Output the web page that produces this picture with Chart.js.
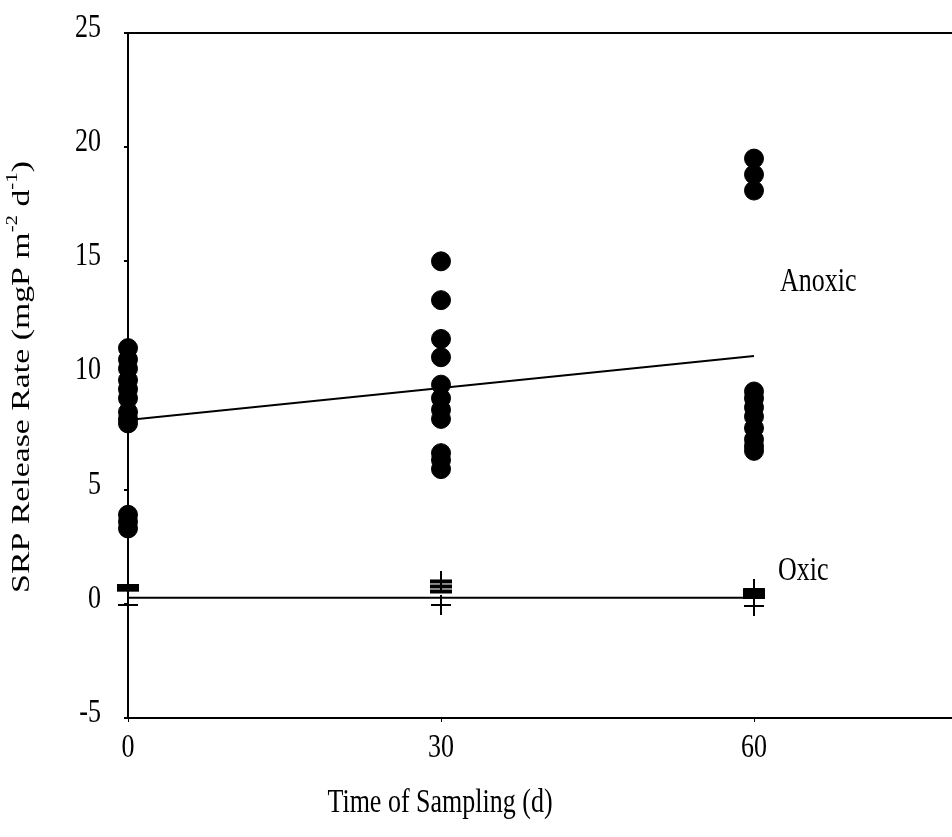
<!DOCTYPE html>
<html>
<head>
<meta charset="utf-8">
<script src="https://cdn.jsdelivr.net/npm/chart.js@4.4.1/dist/chart.umd.min.js"></script>
<style>
  html, body { margin: 0; padding: 0; background: #fff; overflow: hidden; }
  #wrap { width: 1100px; height: 837px; }
</style>
</head>
<body>
<div id="wrap"><canvas id="srpChart" width="1100" height="837"></canvas></div>
<script>
// sampling days and measured release rates (mgP m-2 d-1)
const days = [0, 30, 60];
const xTicks = [0, 30, 60];
const yTicks = [25, 20, 15, 10, 5, 0, -5];

const anoxicDay0 = [11.2, 10.7, 10.3, 9.8, 9.4, 9.0, 8.4, 8.1, 7.9, 3.9, 3.6, 3.3];
const anoxicDay30 = [15.0, 13.3, 11.6, 10.8, 9.6, 9.0, 8.5, 8.1, 6.6, 6.3, 5.9];
const anoxicDay60 = [19.5, 18.8, 18.1, 9.3, 9.0, 8.6, 8.2, 7.7, 7.2, 6.9, 6.7];

// oxic cores: dash markers and plus markers
const oxicDashDay0 = [0.78, 0.62];
const oxicDashDay30 = [0.98, 0.76, 0.54];
const oxicDashDay60 = [0.6, 0.45, 0.3];
const oxicPlusDay0 = [-0.05];
const oxicPlusDay30 = [1.0, -0.05];
const oxicPlusDay60 = [0.65, -0.1];

// linear trends at day 0 and day 60
const trendDays = [0, 60];
const anoxicTrend = [8.05, 10.85];
const oxicTrend = [0.27, 0.27];

const seriesLabels = [
  { text: 'Anoxic', x: 62.5, y: 14.1 },
  { text: 'Oxic', x: 62.3, y: 1.45 }
];

function toPoints(day, values) {
  return values.map(v => ({ x: day, y: v }));
}

let anoxicPts = [].concat(
  toPoints(days[0], anoxicDay0),
  toPoints(days[1], anoxicDay30),
  toPoints(days[2], anoxicDay60)
);
let dashPts = [].concat(
  toPoints(days[0], oxicDashDay0),
  toPoints(days[1], oxicDashDay30),
  toPoints(days[2], oxicDashDay60)
);
let plusPts = [].concat(
  toPoints(days[0], oxicPlusDay0),
  toPoints(days[1], oxicPlusDay30),
  toPoints(days[2], oxicPlusDay60)
);

const FONT = '"Liberation Serif", "Times New Roman", serif';
const FONT_SIZE = 26;
const STRETCH = 1.3;   // lettering is tall and narrow

function tallText(ctx, text, x, y, align) {
  ctx.save();
  ctx.translate(x, y);
  ctx.scale(1, STRETCH);
  ctx.textAlign = align;
  ctx.textBaseline = 'middle';
  ctx.fillText(text, 0, 0);
  ctx.restore();
}

// tick labels, axis titles and series names
const textPlugin = {
  id: 'textPlugin',
  afterDraw(chart) {
    let ctx = chart.ctx;
    let xs = chart.scales.x, ys = chart.scales.y;
    ctx.save();
    ctx.fillStyle = '#000';
    ctx.font = FONT_SIZE + 'px ' + FONT;

    yTicks.forEach(t => {
      let label = t < 0 ? '-' + Math.abs(t) : String(t);
      tallText(ctx, label, 101, ys.getPixelForValue(t) - 5, 'right');
    });
    xTicks.forEach(t => {
      tallText(ctx, String(t), xs.getPixelForValue(t), 748, 'center');
    });

    tallText(ctx, 'Time of Sampling (d)', 440, 803, 'center');

    seriesLabels.forEach(l => {
      tallText(ctx, l.text, xs.getPixelForValue(l.x), ys.getPixelForValue(l.y), 'left');
    });

    // y title with superscripts, rotated
    let parts = [
      { t: 'SRP Release Rate (mgP m', sup: false },
      { t: '-2', sup: true },
      { t: ' d', sup: false },
      { t: '-1', sup: true },
      { t: ')', sup: false }
    ];
    let supFont = '16px ' + FONT;
    let mainFont = FONT_SIZE + 'px ' + FONT;
    let total = 0;
    parts.forEach(p => {
      ctx.font = p.sup ? supFont : mainFont;
      p.w = ctx.measureText(p.t).width;
      total += p.w;
    });
    ctx.translate(22, 377);
    ctx.rotate(-Math.PI / 2);
    ctx.scale(STRETCH, 1);
    ctx.textBaseline = 'middle';
    ctx.textAlign = 'left';
    let cx = -total / 2;
    parts.forEach(p => {
      ctx.font = p.sup ? supFont : mainFont;
      ctx.fillText(p.t, cx, p.sup ? -9 : 0);
      cx += p.w;
    });
    ctx.restore();
  }
};

let chart = new Chart(document.getElementById('srpChart'), {
  type: 'scatter',
  data: {
    datasets: [
      {
        label: 'Anoxic trend',
        data: trendDays.map((d, i) => ({ x: d, y: anoxicTrend[i] })),
        showLine: true,
        borderColor: '#000',
        borderWidth: 2,
        pointRadius: 0
      },
      {
        label: 'Oxic trend',
        data: trendDays.map((d, i) => ({ x: d, y: oxicTrend[i] })),
        showLine: true,
        borderColor: '#000',
        borderWidth: 2,
        pointRadius: 0
      },
      {
        label: 'Anoxic',
        data: anoxicPts,
        clip: false,
        pointStyle: 'circle',
        pointRadius: 9.5,
        backgroundColor: '#000',
        borderColor: '#000',
        borderWidth: 1
      },
      {
        label: 'Oxic dash',
        data: dashPts,
        clip: false,
        pointStyle: 'line',
        pointRadius: 11,
        borderColor: '#000',
        borderWidth: 4
      },
      {
        label: 'Oxic plus',
        data: plusPts,
        clip: false,
        pointStyle: 'cross',
        pointRadius: 10,
        borderColor: '#000',
        borderWidth: 2
      }
    ]
  },
  options: {
    responsive: false,
    animation: false,
    devicePixelRatio: 1,
    layout: { padding: { top: 33, right: 33, left: 0, bottom: 0 } },
    plugins: {
      legend: { display: false },
      tooltip: { enabled: false }
    },
    scales: {
      x: {
        type: 'linear',
        min: 0,
        max: 90,
        afterFit: scale => { scale.height = 119; },
        ticks: { display: false, stepSize: 30 },
        grid: { drawOnChartArea: false, drawTicks: true, tickLength: 4, color: '#000', tickColor: '#000' },
        border: { display: true, color: '#000', width: 2 }
      },
      y: {
        min: -5,
        max: 25,
        afterFit: scale => { scale.width = 128; },
        ticks: { display: false, stepSize: 5 },
        grid: {
          drawOnChartArea: true,
          drawTicks: true,
          tickLength: 4,
          lineWidth: 2,
          color: ctx => (ctx.tick && ctx.tick.value === 25 ? '#000' : 'rgba(0,0,0,0)'),
          tickColor: '#000'
        },
        border: { display: true, color: '#000', width: 2 }
      }
    }
  },
  plugins: [textPlugin]
});
</script>
</body>
</html>
